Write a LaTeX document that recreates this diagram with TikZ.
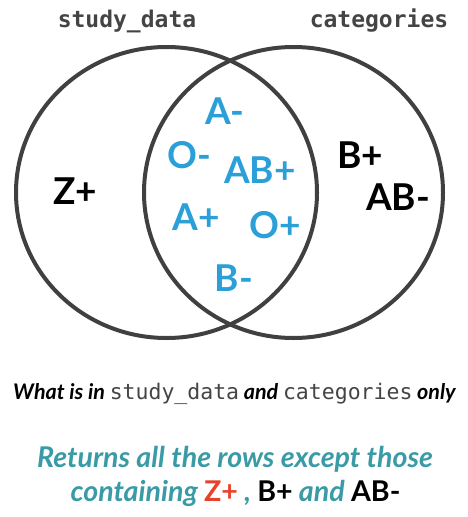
\documentclass[tikz,border=0pt]{standalone}
\usepackage{fontspec}
\setmainfont{Lato}
\setmonofont{DejaVu Sans Mono}
\definecolor{ringgray}{HTML}{404040}
\definecolor{codegray}{HTML}{444444}
\definecolor{bloodblue}{HTML}{2A9FD8}
\definecolor{tealtxt}{HTML}{3A9BA6}
\definecolor{redtxt}{HTML}{E8422C}
\tikzset{
  ring/.style={draw=ringgray, line width=4pt},
  setname/.style={inner sep=0pt, text=codegray, font=\ttfamily\bfseries\fontsize{23}{26}\selectfont},
  inlab/.style={inner sep=0pt, text=bloodblue, font=\bfseries\fontsize{37}{40}\selectfont},
  outlab/.style={inner sep=0pt, text=black, font=\bfseries\fontsize{37}{40}\selectfont},
  caption/.style={inner sep=0pt, text=black, font=\bfseries\itshape\fontsize{21.5}{24}\selectfont},
  result/.style={inner sep=0pt, text=tealtxt, font=\bfseries\itshape\fontsize{28.6}{32}\selectfont}
}
\begin{document}
\begin{tikzpicture}[x=1pt,y=-1pt]
\useasboundingbox (0,0) rectangle (468,517);
\draw[ring] (166.5,192.5) ellipse [x radius=150.5pt, y radius=145.5pt];
\draw[ring] (293.5,192.5) ellipse [x radius=149.5pt, y radius=145.5pt];
\node[setname] (sd) at (127,21) {study\_data};
\node[setname] (ct) at (379,21) {categories};
\node[outlab] (z) at (75,191) {Z+};
\node[outlab] (bp) at (360,155) {B+};
\node[outlab] (abm) at (398,197) {AB-};
\node[inlab] (am) at (225,111) {A-};
\node[inlab] (om) at (189,155) {O-};
\node[inlab] (abp) at (260,170) {AB+};
\node[inlab] (ap) at (196,217) {A+};
\node[inlab] (op) at (275,225) {O+};
\node[inlab] (bm) at (234,278) {B-};
\node[caption] (cap) at (234.5,394) {What is in {\upshape\mdseries\ttfamily\color{codegray}study\_data} and {\upshape\mdseries\ttfamily\color{codegray}categories} only};
\node[result] (r1) at (235,459) {Returns all the rows except those};
\node[result] (r2) at (235.5,493) {containing {\upshape\color{redtxt}Z+} , {\upshape\color{black}B+} and {\upshape\color{black}AB-}};
\end{tikzpicture}
\end{document}
